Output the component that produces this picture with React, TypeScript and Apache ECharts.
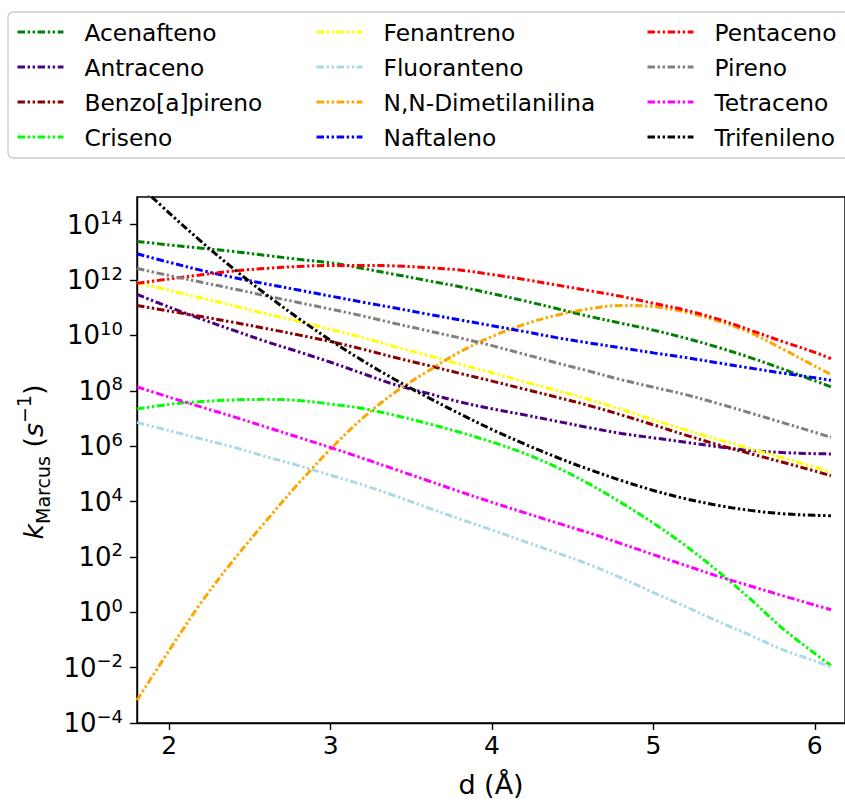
import React, { useEffect, useRef } from "react";
import * as echarts from "echarts";

// Separation distance d (Å) at which each rate was evaluated
const distances = [
  1.8, 2.0, 2.2, 2.4, 2.6, 2.8, 3.0, 3.2, 3.4, 3.6, 3.8, 4.0,
  4.2, 4.4, 4.6, 4.8, 5.0, 5.2, 5.4, 5.6, 5.8, 6.0, 6.1,
];

// log10 of the Marcus rate constant k (s^-1) for each compound
const acenafteno = [13.39, 13.27, 13.15, 13.03, 12.89, 12.75, 12.62, 12.42, 12.2, 11.98, 11.76, 11.51, 11.25, 10.97, 10.69, 10.44, 10.19, 9.9, 9.57, 9.2, 8.79, 8.36, 8.14];
const antraceno = [11.48, 11.02, 10.59, 10.18, 9.78, 9.41, 9.03, 8.62, 8.22, 7.91, 7.6, 7.35, 7.13, 6.9, 6.67, 6.46, 6.3, 6.14, 5.98, 5.84, 5.77, 5.73, 5.72];
const benzoApireno = [11.08, 10.88, 10.68, 10.47, 10.25, 10.02, 9.78, 9.5, 9.2, 8.92, 8.63, 8.35, 8.06, 7.77, 7.47, 7.13, 6.77, 6.4, 6.05, 5.73, 5.42, 5.1, 4.93];
const criseno = [7.34, 7.51, 7.61, 7.67, 7.69, 7.65, 7.52, 7.36, 7.11, 6.82, 6.5, 6.15, 5.74, 5.24, 4.64, 3.96, 3.22, 2.4, 1.48, 0.48, -0.58, -1.49, -1.92];
const fenantreno = [11.91, 11.63, 11.35, 11.07, 10.78, 10.51, 10.22, 9.92, 9.59, 9.28, 8.96, 8.65, 8.33, 8.01, 7.69, 7.33, 6.95, 6.59, 6.24, 5.91, 5.58, 5.24, 5.07];
const fluoranteno = [6.86, 6.56, 6.26, 5.96, 5.62, 5.3, 4.95, 4.6, 4.2, 3.78, 3.37, 2.97, 2.56, 2.15, 1.73, 1.24, 0.71, 0.2, -0.33, -0.83, -1.35, -1.76, -1.98];
const dimetilanilina = [-3.18, -1.37, 0.37, 1.9, 3.3, 4.65, 5.9, 7.02, 7.95, 8.7, 9.4, 9.96, 10.4, 10.73, 10.96, 11.08, 11.04, 10.84, 10.52, 10.1, 9.51, 8.89, 8.59];
const naftaleno = [12.95, 12.64, 12.35, 12.09, 11.86, 11.64, 11.42, 11.2, 10.99, 10.77, 10.56, 10.35, 10.14, 9.92, 9.73, 9.55, 9.37, 9.2, 9.01, 8.82, 8.64, 8.47, 8.38];
const pentaceno = [11.88, 12.04, 12.19, 12.33, 12.42, 12.49, 12.53, 12.53, 12.51, 12.45, 12.36, 12.2, 12.02, 11.82, 11.62, 11.41, 11.16, 10.91, 10.59, 10.19, 9.78, 9.39, 9.16];
const pireno = [12.42, 12.16, 11.92, 11.68, 11.43, 11.19, 10.95, 10.7, 10.43, 10.17, 9.91, 9.63, 9.32, 9.01, 8.71, 8.4, 8.13, 7.86, 7.54, 7.2, 6.85, 6.5, 6.32];
const tetraceno = [8.14, 7.77, 7.41, 7.06, 6.69, 6.32, 5.95, 5.56, 5.16, 4.76, 4.36, 3.97, 3.6, 3.23, 2.87, 2.48, 2.08, 1.69, 1.3, 0.95, 0.6, 0.26, 0.09];
const trifenileno = [15.5, 14.42, 13.38, 12.4, 11.48, 10.62, 9.82, 9.08, 8.4, 7.77, 7.17, 6.6, 6.08, 5.6, 5.16, 4.76, 4.4, 4.1, 3.86, 3.68, 3.56, 3.5, 3.49];

const compoundNames = [
  "Acenafteno", "Antraceno", "Benzo[a]pireno", "Criseno",
  "Fenantreno", "Fluoranteno", "N,N-Dimetilanilina", "Naftaleno",
  "Pentaceno", "Pireno", "Tetraceno", "Trifenileno",
];
const compoundValues = [
  acenafteno, antraceno, benzoApireno, criseno,
  fenantreno, fluoranteno, dimetilanilina, naftaleno,
  pentaceno, pireno, tetraceno, trifenileno,
];
const compoundColors = [
  "#008000", "#4b0082", "#8b0000", "#00ff00",
  "#ffff00", "#add8e6", "#ffa500", "#0000ff",
  "#ff0000", "#808080", "#ff00ff", "#000000",
];

const xTicks = [2, 3, 4, 5, 6];
const yTickExponents = [-4, -2, 0, 2, 4, 6, 8, 10, 12, 14];

const FONT = "DejaVu Sans";
const DASH_DOT_DOT = [7.5, 2.6, 2.4, 2.6, 2.4, 2.6];
const LINE_WIDTH = 3.0;

function buildOption(): echarts.EChartsOption {
  const series = compoundNames.map((name, i) => ({
    name,
    type: "line" as const,
    data: distances.map((d, j) => [d, compoundValues[i][j]]),
    symbol: "none",
    smooth: 0.35,
    clip: true,
    z: 2 + i,
    lineStyle: { color: compoundColors[i], width: LINE_WIDTH, type: DASH_DOT_DOT, cap: "butt" },
    itemStyle: { color: compoundColors[i] },
  }));

  const columns = [compoundNames.slice(0, 4), compoundNames.slice(4, 8), compoundNames.slice(8, 12)];
  const columnLefts = [16, 315, 646];
  const legend = columns.map((names, i) => ({
    data: names,
    orient: "vertical" as const,
    left: columnLefts[i],
    top: 19,
    padding: 0,
    itemWidth: 46,
    itemHeight: 14,
    itemGap: 9,
    selectedMode: false,
    itemStyle: { opacity: 0 },
    lineStyle: { width: LINE_WIDTH },
    textStyle: {
      fontFamily: FONT,
      fontSize: 23.3,
      lineHeight: 26,
      color: "#000",
      padding: [0, 0, 0, 16],
    },
  }));

  return {
    animation: false,
    backgroundColor: "#fff",
    textStyle: { fontFamily: FONT },
    legend,
    grid: {
      left: 137,
      top: 197,
      right: -2,
      bottom: 75,
      show: true,
      borderColor: "#000",
      borderWidth: 1.4,
      backgroundColor: "transparent",
    },
    xAxis: {
      type: "value",
      min: 1.8,
      max: 6.187,
      name: "d (Å)",
      nameLocation: "middle",
      nameGap: 48,
      nameTextStyle: { fontFamily: FONT, fontSize: 27, color: "#000" },
      axisLine: { onZero: false, lineStyle: { color: "#000", width: 1.4 } },
      axisTick: {
        length: 7,
        lineStyle: { color: "#000", width: 1.4 },
        customValues: xTicks,
      },
      axisLabel: {
        customValues: xTicks,
        fontFamily: FONT,
        fontSize: 25,
        color: "#000",
        margin: 10,
        formatter: (v: number) => String(v),
      },
      splitLine: { show: false },
    },
    yAxis: {
      type: "value",
      min: -4,
      max: 15,
      axisLine: { show: true, onZero: false, lineStyle: { color: "#000", width: 1.4 } },
      axisTick: {
        show: true,
        length: 7,
        lineStyle: { color: "#000", width: 1.4 },
        customValues: yTickExponents,
      },
      axisLabel: {
        customValues: yTickExponents,
        margin: 14,
        formatter: (v: number) => `{b|10}{s|${v < 0 ? "\u2212" + Math.abs(v) : v}}`,
        rich: {
          b: { fontFamily: FONT, fontSize: 26, color: "#000", lineHeight: 32 },
          s: { fontFamily: FONT, fontSize: 18, color: "#000", lineHeight: 18, verticalAlign: "top" },
        },
      },
      splitLine: { show: false },
    },
    graphic: [
      {
        type: "rect",
        z: -1,
        shape: { x: 8, y: 12, width: 860, height: 146, r: 5 },
        style: { fill: "#fff", stroke: "#cccccc", lineWidth: 1.3 },
        silent: true,
      },
      {
        type: "text",
        x: 33,
        y: 462,
        rotation: Math.PI / 2,
        style: {
          text: "{k|k}{sub|Marcus}{n| (}{s|s}{sup|\u22121}{n|)}",
          align: "center",
          verticalAlign: "middle",
          rich: {
            k: { fontFamily: FONT, fontStyle: "italic", fontSize: 27, lineHeight: 38, fill: "#000" },
            sub: { fontFamily: FONT, fontSize: 19, lineHeight: 22, verticalAlign: "bottom", fill: "#000" },
            n: { fontFamily: FONT, fontSize: 27, lineHeight: 38, fill: "#000" },
            s: { fontFamily: FONT, fontStyle: "italic", fontSize: 27, lineHeight: 38, fill: "#000" },
            sup: { fontFamily: FONT, fontSize: 19, lineHeight: 20, verticalAlign: "top", fill: "#000" },
          },
        },
        silent: true,
      },
    ],
    series,
  } as echarts.EChartsOption;
}

export default function App() {
  const ref = useRef<HTMLDivElement>(null);
  useEffect(() => {
    if (!ref.current) return;
    const chart = echarts.init(ref.current, null, { renderer: "svg" });
    chart.setOption(buildOption());
    return () => chart.dispose();
  }, []);
  return (
    <div
      ref={ref}
      style={{ position: "fixed", left: 0, top: 0, width: 845, height: 803, overflow: "hidden" }}
    />
  );
}
